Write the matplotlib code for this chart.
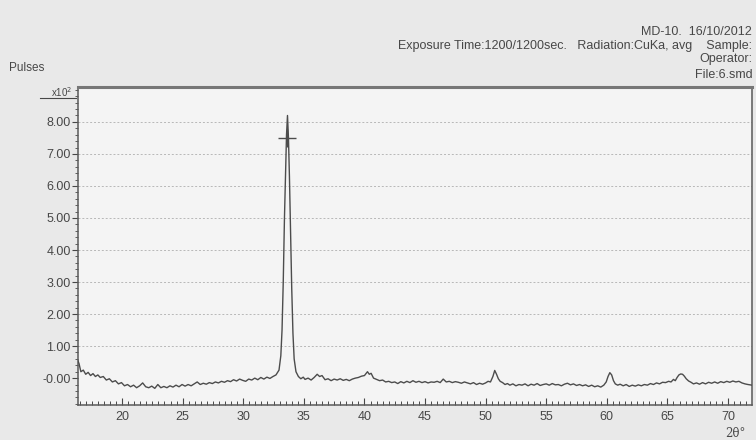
import matplotlib
matplotlib.use('Agg')
import matplotlib.pyplot as plt
from matplotlib.lines import Line2D
from matplotlib.ticker import MultipleLocator

plt.rcParams['font.family'] = ['Liberation Sans', 'DejaVu Sans']

# XRD scan (2theta in degrees, pulses in x10^2)
two_theta = [
    16.35, 16.45, 16.6, 16.8, 17.0, 17.2, 17.4, 17.6, 17.8, 18.0,
    18.2, 18.45, 18.7, 18.95, 19.2, 19.45, 19.7, 19.95, 20.2, 20.45,
    20.7, 20.95, 21.2, 21.45, 21.7, 21.95, 22.2, 22.45, 22.7, 22.95,
    23.2, 23.45, 23.7, 23.95, 24.2, 24.45, 24.7, 24.95, 25.2, 25.45,
    25.7, 25.95, 26.2, 26.45, 26.7, 26.95, 27.2, 27.45, 27.7, 27.95,
    28.2, 28.45, 28.7, 28.95, 29.2, 29.45, 29.7, 29.95, 30.2, 30.45,
    30.7, 30.95, 31.2, 31.45, 31.7, 31.95, 32.2, 32.45, 32.7, 32.95,
    33.1, 33.2, 33.3, 33.4, 33.5, 33.57, 33.65, 33.73, 33.81, 33.9,
    34.0, 34.1, 34.2, 34.35, 34.55, 34.75, 34.95, 35.1, 35.35, 35.6,
    35.85, 36.1, 36.3, 36.5, 36.75, 37.0, 37.25, 37.5, 37.75, 38.0,
    38.25, 38.5, 38.75, 39.0, 39.25, 39.5, 39.75, 40.0, 40.25, 40.4,
    40.55, 40.75, 41.0, 41.25, 41.5, 41.75, 42.0, 42.25, 42.5, 42.75,
    43.0, 43.25, 43.5, 43.75, 44.0, 44.25, 44.5, 44.75, 45.0, 45.25,
    45.5, 45.75, 46.0, 46.25, 46.5, 46.75, 47.0, 47.25, 47.5, 47.75,
    48.0, 48.25, 48.5, 48.75, 49.0, 49.25, 49.5, 49.75, 50.0, 50.2,
    50.4, 50.6, 50.75, 50.9, 51.05, 51.2, 51.4, 51.6, 51.8, 52.0,
    52.25, 52.5, 52.75, 53.0, 53.25, 53.5, 53.75, 54.0, 54.25, 54.5,
    54.75, 55.0, 55.25, 55.5, 55.75, 56.0, 56.25, 56.5, 56.75, 57.0,
    57.25, 57.5, 57.75, 58.0, 58.25, 58.5, 58.75, 59.0, 59.25, 59.5,
    59.75, 59.95, 60.1, 60.25, 60.4, 60.55, 60.7, 60.9, 61.1, 61.35,
    61.6, 61.85, 62.1, 62.35, 62.6, 62.85, 63.1, 63.35, 63.6, 63.85,
    64.1, 64.35, 64.6, 64.85, 65.1, 65.3, 65.5, 65.65, 65.8, 65.95,
    66.1, 66.25, 66.4, 66.55, 66.75, 66.95, 67.15, 67.4, 67.65, 67.9,
    68.15, 68.4, 68.65, 68.9, 69.15, 69.4, 69.65, 69.9, 70.15, 70.4,
    70.65, 70.9, 71.15, 71.4, 71.65, 71.98,
]
pulses = [
    0.55, 0.45, 0.2, 0.25, 0.12, 0.18, 0.08, 0.14, 0.05, 0.1,
    0.02, 0.05, -0.06, -0.02, -0.12, -0.08, -0.18, -0.14, -0.24, -0.2,
    -0.27, -0.22, -0.3, -0.24, -0.15, -0.27, -0.3, -0.25, -0.32, -0.2,
    -0.3, -0.26, -0.3, -0.24, -0.28, -0.22, -0.27, -0.2, -0.25, -0.2,
    -0.24, -0.18, -0.12, -0.2, -0.16, -0.19, -0.14, -0.17, -0.12, -0.15,
    -0.1, -0.13, -0.08, -0.11, -0.05, -0.09, -0.03, -0.07, -0.1, -0.03,
    -0.06, 0.0, -0.05, 0.02, -0.03, 0.03, -0.01, 0.05, 0.1, 0.25,
    0.7, 1.5, 3.0, 5.0, 6.6, 7.6, 8.2, 7.5, 6.3, 4.6,
    2.8, 1.4, 0.6, 0.2, 0.05, -0.02, 0.03, -0.04, 0.0, -0.06,
    0.02, 0.12, 0.05, 0.08, -0.05, -0.02, -0.08, -0.03, -0.06, -0.02,
    -0.07, -0.04, -0.08, -0.03, 0.0, 0.02, 0.06, 0.08, 0.2, 0.12,
    0.15, 0.0, -0.04, -0.08, -0.06, -0.12, -0.1, -0.14, -0.12, -0.17,
    -0.11, -0.15, -0.1, -0.14, -0.08, -0.13, -0.1, -0.14, -0.11, -0.15,
    -0.12, -0.13, -0.1, -0.14, -0.03, -0.12, -0.1, -0.14, -0.11, -0.13,
    -0.16, -0.12, -0.15, -0.18, -0.14, -0.2, -0.16, -0.19, -0.15, -0.1,
    -0.12, 0.05, 0.24, 0.12, -0.02, -0.1, -0.14, -0.2, -0.17, -0.22,
    -0.18, -0.24, -0.2, -0.22, -0.18, -0.24, -0.19, -0.22, -0.17, -0.23,
    -0.2, -0.18, -0.22, -0.17, -0.21, -0.2, -0.24, -0.19, -0.16, -0.21,
    -0.18, -0.23, -0.2, -0.24, -0.21, -0.26, -0.22, -0.27, -0.24, -0.28,
    -0.22, -0.12, 0.05, 0.17, 0.1, -0.08, -0.18, -0.22, -0.19, -0.24,
    -0.2, -0.26, -0.22, -0.25, -0.21, -0.24, -0.2, -0.22, -0.17, -0.2,
    -0.15, -0.18, -0.13, -0.14, -0.1, -0.12, -0.04, -0.08, 0.02, 0.1,
    0.13, 0.12, 0.06, -0.02, -0.09, -0.13, -0.18, -0.15, -0.19, -0.14,
    -0.18, -0.13, -0.16, -0.12, -0.16, -0.11, -0.14, -0.1, -0.13, -0.09,
    -0.12, -0.1, -0.15, -0.18, -0.2, -0.22,
]

peak_mark = (33.65, 7.5)

x_ticks = [20, 25, 30, 35, 40, 45, 50, 55, 60, 65, 70]
y_ticks = [0, 1, 2, 3, 4, 5, 6, 7, 8]
y_tick_labels = ['-0.00', '1.00', '2.00', '3.00', '4.00', '5.00', '6.00', '7.00', '8.00']

header_lines = ['MD-10.  16/10/2012',
                'Exposure Time:1200/1200sec.   Radiation:CuKa, avg    Sample:',
                'Operator:',
                'File:6.smd']

ink = '#474747'

fig = plt.figure(figsize=(7.56, 4.40), dpi=100, facecolor='#e9e9e9')
ax = fig.add_axes([0.1028, 0.0795, 0.8919, 0.7228])
ax.set_facecolor('#f4f4f4')

for v in y_ticks[1:]:
    ax.axhline(v, color='#b8b8b8', lw=0.7, ls=(0, (2, 2)), zorder=1)

ax.plot(two_theta, pulses, color='#4c4c4c', lw=1.0, zorder=3)
ax.plot([peak_mark[0]], [peak_mark[1]], marker='+', ms=13, mew=1.0,
        color='#4c4c4c', zorder=4)

ax.set_xlim(16.34, 71.98)
ax.set_ylim(-0.84, 9.09)

ax.set_xticks(x_ticks)
ax.xaxis.set_minor_locator(MultipleLocator(0.5))
ax.set_yticks(y_ticks)
ax.set_yticklabels(y_tick_labels)
ax.yaxis.set_minor_locator(MultipleLocator(0.2))

ax.tick_params(axis='x', which='major', direction='in', length=5, width=0.8,
               colors=ink, labelsize=9, pad=4)
ax.tick_params(axis='x', which='minor', direction='in', length=3, width=0.7, color=ink)
ax.tick_params(axis='y', which='major', direction='out', length=4, width=0.8,
               colors=ink, labelsize=9, pad=1)
ax.tick_params(axis='y', which='minor', direction='out', length=2, width=0.6, color=ink)

for side in ['left', 'bottom', 'right']:
    ax.spines[side].set_color('#5a5a5a')
    ax.spines[side].set_linewidth(1.1)
ax.spines['top'].set_color('#777777')
ax.spines['top'].set_linewidth(2.2)

# header text block
ys = [0.927, 0.896, 0.866, 0.830]
for txt, yy in zip(header_lines, ys):
    fig.text(0.995, yy, txt, ha='right', va='center', fontsize=9, color=ink)

fig.text(0.012, 0.845, 'Pulses', ha='left', va='center', fontsize=8.5, color=ink)
fig.text(0.096, 0.79, 'x10$^2$', ha='right', va='center', fontsize=7, color=ink)
fig.add_artist(Line2D([0.053, 0.1], [0.777, 0.777], color=ink, lw=0.8))
fig.text(0.986, 0.0, '2θ°', ha='right', va='bottom', fontsize=8.5, color=ink,
         family=['DejaVu Serif'])

plt.savefig('out.png', dpi=100, facecolor=fig.get_facecolor())
plt.close()
